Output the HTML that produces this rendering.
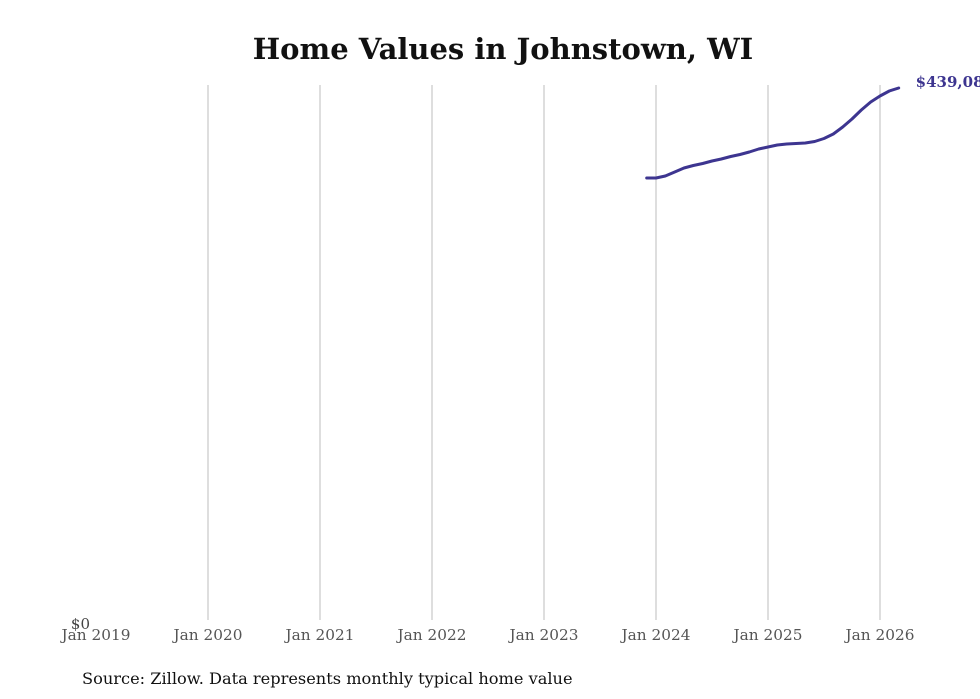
<!DOCTYPE html>
<html><head><meta charset="utf-8"><style>
html,body{margin:0;padding:0;background:#fff;width:980px;height:699px;overflow:hidden}
svg{display:block}
</style></head><body>
<svg id="chart" width="980" height="699" font-family="'DejaVu Serif','Liberation Serif',serif">
<text x="503" y="59" text-anchor="middle" font-size="29" font-weight="bold" fill="#111">Home Values in Johnstown, WI</text>
<g id="grid"></g>
<g id="xticks"></g>
<text x="90" y="629" text-anchor="end" font-size="15" fill="#444">$0</text>
<path id="line" fill="none" stroke="#3d3590" stroke-width="3" stroke-linejoin="round" stroke-linecap="round"></path>
<text id="endlabel" font-size="15" font-weight="bold" fill="#3d3590"></text>
<text x="82" y="684" font-size="16.2" fill="#111">Source: Zillow. Data represents monthly typical home value</text>
</svg>
<script>
const tickLabels=["Jan 2019","Jan 2020","Jan 2021","Jan 2022","Jan 2023","Jan 2024","Jan 2025","Jan 2026"];
const startMonthIndex=59; // months since Jan 2019 (Dec 2023)
const values=[365101,365101,366746,370035,373324,375381,377035,379080,380725,382780,384425,386481,388948,390593,392237,393060,393471,393882,395116,397583,401282,407040,413618,421019,427597,432530,436642,439080];
const endLabel="$439,080";
const x=m=>96+m*112/12;
const y=v=>622-v/822.3;
const ns="http://www.w3.org/2000/svg";
const grid=document.getElementById('grid'),xt=document.getElementById('xticks');
tickLabels.forEach((t,i)=>{
  const xx=x(i*12);
  if(i>0){const l=document.createElementNS(ns,'line');
    l.setAttribute('x1',xx);l.setAttribute('x2',xx);l.setAttribute('y1',85);l.setAttribute('y2',620);
    l.setAttribute('stroke','#bdbdbd');l.setAttribute('stroke-width','1');
    
    
    grid.appendChild(l);}
  const tx=document.createElementNS(ns,'text');
  tx.setAttribute('x',xx);tx.setAttribute('y',640);tx.setAttribute('text-anchor','middle');
  tx.setAttribute('font-size','15.3');tx.setAttribute('fill','#555');tx.textContent=t;
  
  
  xt.appendChild(tx);
});
let d='';
values.forEach((v,i)=>{d+=(i?'L':'M')+x(startMonthIndex+i).toFixed(1)+','+y(v).toFixed(1);});
document.getElementById('line').setAttribute('d',d);
const last=values.length-1;
const el=document.getElementById('endlabel');
el.setAttribute('x',x(startMonthIndex+last)+17);
el.setAttribute('y',y(values[last])-1);
el.textContent=endLabel;
</script>
</body></html>
